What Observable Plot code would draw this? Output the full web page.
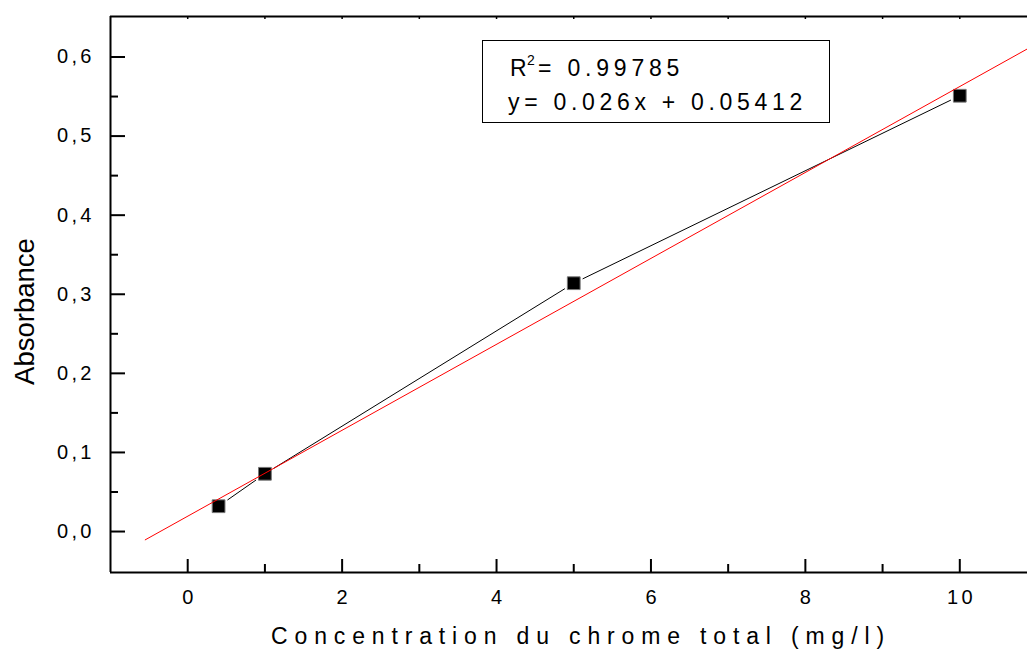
<!DOCTYPE html>
<html>
<head>
<meta charset="utf-8">
<script src="https://cdn.jsdelivr.net/npm/d3@7"></script>
<script src="https://cdn.jsdelivr.net/npm/@observablehq/plot@0.6"></script>
<style>
  html, body { margin: 0; padding: 0; background: #fff; }
  #chart { position: relative; width: 1027px; height: 654px; overflow: hidden; }
  #chart svg { display: block; }
  g[aria-label="x-axis tick label"] text,
  g[aria-label="y-axis tick label"] text { letter-spacing: 3.2px; font-size: 20px; }
</style>
</head>
<body>
<div id="chart"></div>
<script>
// Calibration points: total chromium concentration (mg/l) vs absorbance
const concentration = [0.4, 1, 5, 10];
const absorbance = [0.032, 0.073, 0.314, 0.551];

// Fitted straight line, given by its two end points
const fitX = [-0.55, 10.88];
const fitY = [-0.0105, 0.6105];

// Axis ticks
const xMajor = [0, 2, 4, 6, 8, 10];
const xTickLabels = ["0", "2", "4", "6", "8", "10"];
const xMinor = [1, 3, 5, 7, 9];
const xTop = [0, 1, 2, 3, 4, 5, 6, 7, 8, 9, 10];
const yMajor = [0, 0.1, 0.2, 0.3, 0.4, 0.5, 0.6];
const yTickLabels = ["0,0", "0,1", "0,2", "0,3", "0,4", "0,5", "0,6"];
const yMinor = [0.05, 0.15, 0.25, 0.35, 0.45, 0.55];

// Texts
const xTitle = "Concentration du chrome total (mg/l)";
const yTitle = "Absorbance";
const r2Text = "0.99785";
const eqText = "y= 0.026x + 0.05412";

const xDomain = [-1, 10.877];
const yDomain = [-0.0518, 0.6512];

const points = concentration.map((c, i) => ({c, a: absorbance[i]}));
const fit = fitX.map((x, i) => ({x, y: fitY[i]}));

const W = 1027, H = 654;
const mL = 110, mR = 0, mT = 16, mB = 82;
const innerW = W - mL - mR, innerH = H - mT - mB;

const svg = Plot.plot({
  width: W,
  height: H,
  marginLeft: mL,
  marginRight: mR,
  marginTop: mT,
  marginBottom: mB,
  style: {fontFamily: "'Liberation Sans', Arial, sans-serif", background: "#fff", color: "#000", overflow: "hidden"},
  x: {domain: xDomain, label: null},
  y: {domain: yDomain, label: null},
  marks: [
    // data connected by a thin black line
    Plot.line(points, {x: "c", y: "a", stroke: "#000", strokeWidth: 1}),
    // white halo leaves a small gap between line and markers
    Plot.dot(points, {x: "c", y: "a", symbol: "square", r: 7.2, fill: "#fff", stroke: "#fff", strokeWidth: 5}),
    Plot.dot(points, {x: "c", y: "a", symbol: "square", r: 7.2, fill: "#000", stroke: "#777", strokeWidth: 1}),
    // linear fit
    Plot.line(fit, {x: "x", y: "y", stroke: "#ff0000", strokeWidth: 1, clip: true}),

    // axis lines (left, bottom, top)
    Plot.ruleX([xDomain[0]], {stroke: "#000", strokeWidth: 2}),
    Plot.ruleY([yDomain[0]], {stroke: "#000", strokeWidth: 2}),
    Plot.ruleY([yDomain[1]], {stroke: "#000", strokeWidth: 2}),

    // inward tick marks
    Plot.tickY(yMajor, {y: d => d, insetRight: innerW - 15, stroke: "#000", strokeWidth: 2}),
    Plot.tickY(yMinor, {y: d => d, insetRight: innerW - 8, stroke: "#000", strokeWidth: 2}),
    Plot.tickX(xMajor, {x: d => d, insetTop: innerH - 13, stroke: "#000", strokeWidth: 2}),
    Plot.tickX(xMinor, {x: d => d, insetTop: innerH - 8, stroke: "#000", strokeWidth: 2}),
    Plot.tickX(xTop, {x: d => d, insetBottom: innerH - 3, stroke: "#000", strokeWidth: 1.5}),

    // tick labels
    Plot.axisX({ticks: xMajor, tickSize: 0, tickPadding: 17, fontSize: 20, dx: 1.6, label: null,
      tickFormat: d => xTickLabels[xMajor.indexOf(d)]}),
    Plot.axisY({ticks: yMajor, tickSize: 0, tickPadding: 16, fontSize: 20, label: null,
      tickFormat: d => yTickLabels[yMajor.indexOf(d)]}),

    // axis titles
    Plot.text([xTitle], {text: d => d, frameAnchor: "bottom", dy: 71, dx: 12, fontSize: 23, textAnchor: "middle"}),
    Plot.text([yTitle], {text: d => d, frameAnchor: "left", dx: -85, dy: 17, rotate: -90, fontSize: 27.5, textAnchor: "middle"})
  ]
});

d3.select(svg).selectAll("text")
  .filter(function() { return this.textContent === xTitle; })
  .style("letter-spacing", "6.85px");

const chart = document.getElementById("chart");
chart.appendChild(svg);

// Regression box
const box = d3.select(chart).append("svg")
  .attr("width", 349).attr("height", 84)
  .style("position", "absolute").style("left", "482px").style("top", "40px")
  .style("font-family", "'Liberation Sans', Arial, sans-serif");
box.append("rect")
  .attr("x", 0.5).attr("y", 0.5).attr("width", 347).attr("height", 82)
  .attr("fill", "#fff").attr("stroke", "#000").attr("stroke-width", 1);

const line1 = box.append("text").attr("y", 36).attr("font-size", 23).attr("fill", "#000");
line1.append("tspan").attr("x", 28).text("R");
line1.append("tspan").attr("x", 45).attr("y", 25).attr("font-size", 14).text("2");
line1.append("tspan").attr("x", 56).attr("y", 36).style("letter-spacing", "4.8px")
  .style("white-space", "pre").text("= " + r2Text);

box.append("text").attr("x", 26).attr("y", 70).attr("font-size", 23).attr("fill", "#000")
  .style("letter-spacing", "4.7px").style("white-space", "pre").text(eqText);
</script>
</body>
</html>
